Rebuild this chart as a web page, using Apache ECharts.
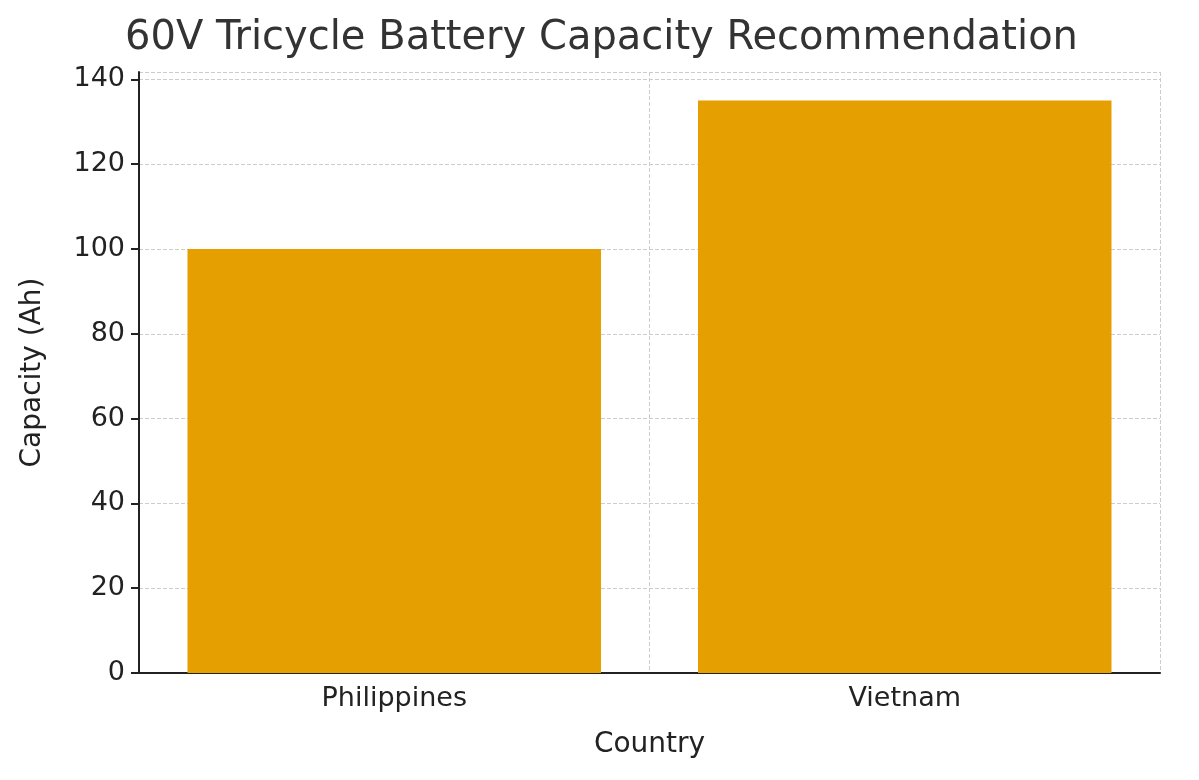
<!DOCTYPE html>
<html>
<head>
<meta charset="utf-8">
<script src="https://cdn.jsdelivr.net/npm/echarts@6/dist/echarts.min.js"></script>
<style>html,body{margin:0;padding:0;background:#fff}#main{width:1199px;height:780px}</style>
</head>
<body>
<div id="main"></div>
<script>
var countries = ['Philippines', 'Vietnam']
var capacities = [100, 135]

var chart = echarts.init(document.getElementById('main'))
var font = 'DejaVu Sans'
chart.setOption({
  animation: false,
  title: {
    text: '60V Tricycle Battery Capacity Recommendation',
    left: 120, top: 14,
    textStyle: { fontFamily: font, fontSize: 40, fontWeight: 'normal', color: '#333' }
  },
  grid: { left: 139, right: 39, top: 72, bottom: 107 },
  xAxis: {
    type: 'category',
    data: countries,
    name: 'Country',
    nameLocation: 'middle',
    nameGap: 58,
    nameTextStyle: { fontFamily: font, fontSize: 28, color: '#222' },
    axisLine: { lineStyle: { color: '#222', width: 2 } },
    axisTick: { alignWithLabel: true, length: 8, lineStyle: { color: '#222', width: 2 } },
    axisLabel: { fontFamily: font, fontSize: 27, color: '#222', margin: 12 },
    splitLine: { show: true, interval: 0, lineStyle: { type: 'dashed', color: '#ccc' } }
  },
  yAxis: {
    type: 'value',
    min: 0, max: 141.75, interval: 20,
    name: 'Capacity (Ah)',
    nameLocation: 'middle',
    nameGap: 92,
    nameTextStyle: { fontFamily: font, fontSize: 28, color: '#222' },
    axisLine: { show: true, lineStyle: { color: '#222', width: 2 } },
    axisTick: { show: true, length: 8, lineStyle: { color: '#222', width: 2 } },
    axisLabel: { fontFamily: font, fontSize: 27, color: '#222', margin: 14, showMaxLabel: false },
    splitLine: { show: true, lineStyle: { type: 'dashed', color: '#ccc' } }
  },
  series: [{
    type: 'bar',
    data: capacities,
    barWidth: '81%',
    itemStyle: { color: '#E69F00' }
  }]
})
</script>
</body>
</html>
